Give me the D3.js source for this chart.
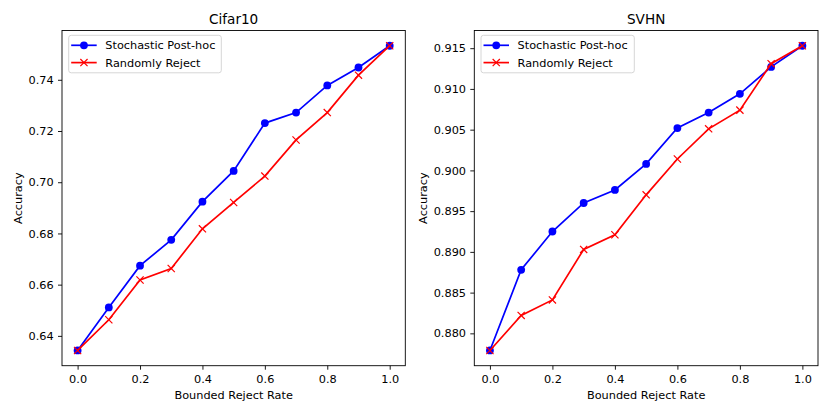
<!DOCTYPE html>
<html>
<head>
<meta charset="utf-8">
<script src="https://cdn.jsdelivr.net/npm/d3@7"></script>
<style>
  html, body { margin: 0; padding: 0; background: #fff; }
  svg { display: block; font-family: "DejaVu Sans", sans-serif; }
</style>
</head>
<body>
<svg id="chart" width="830" height="415"></svg>
<script>
// ---- Data ----
const rejectRates = [0.0, 0.1, 0.2, 0.3, 0.4, 0.5, 0.6, 0.7, 0.8, 0.9, 1.0];
const xTicks = [0.0, 0.2, 0.4, 0.6, 0.8, 1.0];

const cifarStochastic = [0.6343, 0.6511, 0.6674, 0.6775, 0.6924, 0.7044, 0.7231, 0.7272, 0.7378, 0.7448, 0.7533];
const cifarRandom     = [0.6343, 0.6463, 0.6618, 0.6663, 0.6818, 0.6921, 0.7024, 0.7165, 0.7272, 0.7418, 0.7533];
const cifarYTicks = [0.64, 0.66, 0.68, 0.70, 0.72, 0.74];

const svhnStochastic = [0.8779, 0.8878, 0.8925, 0.8960, 0.8976, 0.9008, 0.9052, 0.9071, 0.9094, 0.9127, 0.9153];
const svhnRandom     = [0.8779, 0.8822, 0.8841, 0.8903, 0.8921, 0.8970, 0.9014, 0.9051, 0.9074, 0.9131, 0.9153];
const svhnYTicks = [0.880, 0.885, 0.890, 0.895, 0.900, 0.905, 0.910, 0.915];

const seriesNames = ["Stochastic Post-hoc", "Randomly Reject"];
const seriesColors = ["#0000ff", "#ff0000"];

const FS = 11.3, TFS = 13.6;
const svg = d3.select("#chart");

function padDomain(vals) {
  const [a, b] = d3.extent(vals);
  const p = (b - a) * 0.05;
  return [a - p, b + p];
}

function drawPanel(opts) {
  const { left, right, top, bottom, title, stoch, rand, yTicks, yFmt, ylabelX } = opts;
  const g = svg.append("g");
  const x = d3.scaleLinear().domain(padDomain(rejectRates)).range([left, right]);
  const y = d3.scaleLinear().domain(padDomain(stoch.concat(rand))).range([bottom, top]);

  // axes
  const xAxis = d3.axisBottom(x).tickValues(xTicks).tickFormat(d3.format(".1f")).tickSizeOuter(0).tickSize(4).tickPadding(5.5);
  const gx = g.append("g").attr("transform", `translate(0,${bottom})`).call(xAxis);
  const yAxis = d3.axisLeft(y).tickValues(yTicks).tickFormat(yFmt).tickSizeOuter(0).tickSize(4).tickPadding(4.3);
  const gy = g.append("g").attr("transform", `translate(${left},0)`).call(yAxis);
  [gx, gy].forEach(a => {
    a.select(".domain").remove();
    a.selectAll("text").attr("font-size", FS).attr("font-family", "DejaVu Sans, sans-serif").attr("fill", "#000");
    a.selectAll("line").attr("stroke", "#000").attr("stroke-width", 0.9);
  });

  // title
  g.append("text").attr("x", (left + right) / 2).attr("y", 24)
    .attr("text-anchor", "middle").attr("font-size", TFS).text(title);
  // x label
  g.append("text").attr("x", (left + right) / 2).attr("y", 398.5)
    .attr("text-anchor", "middle").attr("font-size", FS).text("Bounded Reject Rate");
  // y label
  g.append("text").attr("transform", `translate(${ylabelX},${(top + bottom) / 2}) rotate(-90)`)
    .attr("text-anchor", "middle").attr("font-size", FS).text("Accuracy");

  const line = d3.line().x((d, i) => x(rejectRates[i])).y(d => y(d));

  // stochastic (blue, circles)
  g.append("path").datum(stoch).attr("d", line).attr("fill", "none")
    .attr("stroke", seriesColors[0]).attr("stroke-width", 1.7);
  g.selectAll(".c").data(stoch).enter().append("circle")
    .attr("cx", (d, i) => x(rejectRates[i])).attr("cy", d => y(d)).attr("r", 3.9)
    .attr("fill", seriesColors[0]);

  // random (red, x markers)
  g.append("path").datum(rand).attr("d", line).attr("fill", "none")
    .attr("stroke", seriesColors[1]).attr("stroke-width", 1.7);
  const s = 3.6;
  rand.forEach((d, i) => {
    const cx = x(rejectRates[i]), cy = y(d);
    g.append("path").attr("d", `M${cx - s},${cy - s}L${cx + s},${cy + s}M${cx - s},${cy + s}L${cx + s},${cy - s}`)
      .attr("stroke", seriesColors[1]).attr("stroke-width", 1.2).attr("fill", "none");
  });

  // frame
  g.append("rect").attr("x", left).attr("y", top)
    .attr("width", right - left).attr("height", bottom - top)
    .attr("fill", "none").attr("stroke", "#000").attr("stroke-width", 0.9);

  // legend
  const lx = left + 6.7, ly = top + 4.8;
  const lw = opts.legendW, lh = 37.5;
  g.append("rect").attr("x", lx).attr("y", ly).attr("width", lw).attr("height", lh)
    .attr("rx", 2.5).attr("fill", "#fff").attr("fill-opacity", 0.8)
    .attr("stroke", "#d6d6d6").attr("stroke-width", 1);
  seriesNames.forEach((name, k) => {
    const ry = ly + 10 + k * 17.3;
    const x0 = lx + 2.5, x1 = lx + 28, xm = (x0 + x1) / 2;
    g.append("line").attr("x1", x0).attr("x2", x1).attr("y1", ry).attr("y2", ry)
      .attr("stroke", seriesColors[k]).attr("stroke-width", 1.7);
    if (k === 0) {
      g.append("circle").attr("cx", xm).attr("cy", ry).attr("r", 3.9).attr("fill", seriesColors[0]);
    } else {
      g.append("path").attr("d", `M${xm - s},${ry - s}L${xm + s},${ry + s}M${xm - s},${ry + s}L${xm + s},${ry - s}`)
        .attr("stroke", seriesColors[1]).attr("stroke-width", 1.2);
    }
    g.append("text").attr("x", lx + 36.6).attr("y", ry).attr("dy", "0.35em")
      .attr("font-size", FS).text(name);
  });
}

drawPanel({
  left: 62, right: 405.3, top: 30.5, bottom: 365.7, title: "Cifar10",
  stoch: cifarStochastic, rand: cifarRandom, yTicks: cifarYTicks, yFmt: d3.format(".2f"),
  ylabelX: 21.5, legendW: 152.6
});
drawPanel({
  left: 474.3, right: 818, top: 30.5, bottom: 365.7, title: "SVHN",
  stoch: svhnStochastic, rand: svhnRandom, yTicks: svhnYTicks, yFmt: d3.format(".3f"),
  ylabelX: 427, legendW: 153.3
});
</script>
</body>
</html>
